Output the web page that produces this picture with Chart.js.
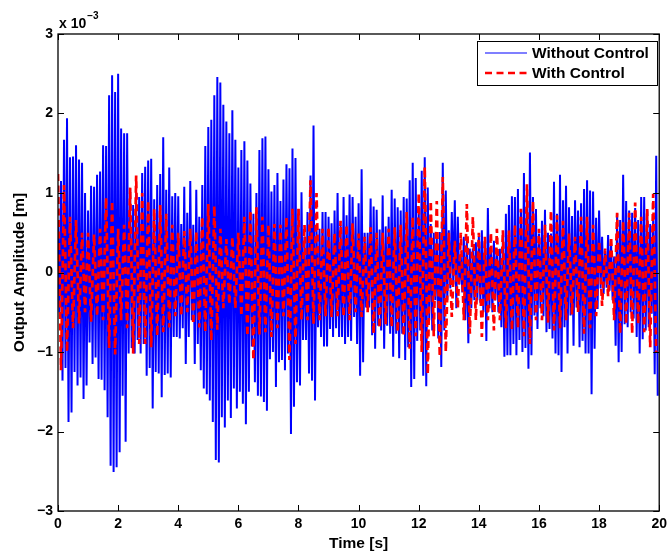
<!DOCTYPE html>
<html>
<head>
<meta charset="utf-8">
<title>Output Amplitude</title>
<script src="https://cdn.jsdelivr.net/npm/chart.js@4.4.1/dist/chart.umd.min.js"></script>
<style>
  html, body { margin: 0; padding: 0; background: #ffffff; }
  canvas { display: block; }
</style>
</head>
<body>
<canvas id="chart" width="672" height="554"></canvas>
<script>
// Amplitudes are in units of 1e-3 m (the axis carries the "x 10^-3" factor).
// Each cycle: a positive peak followed half a period later by a negative trough.
const withoutPeriod = 0.1; // s, uncontrolled response
const withPeriod = 0.2;    // s, controlled response

// Without Control: one peak / trough pair per 0.1 s (rows = 1 s)
const withoutHigh = [
  0.60, 1.15, 1.67, 1.94, 1.45, 1.46, 1.60, 1.42, 1.38, 1.00,
  0.78, 1.09, 1.08, 1.23, 1.27, 1.60, 1.59, 2.23, 2.48, 2.27,
  2.50, 1.81, 1.75, 1.75, 1.05, 0.85, 1.00, 0.95, 1.25, 1.33,
  1.41, 1.43, 0.92, 1.10, 1.24, 1.70, 1.04, 1.32, 0.96, 1.00,
  0.96, 0.61, 1.08, 0.75, 1.15, 0.60, 1.04, 0.70, 1.10, 1.59,
  1.83, 1.92, 2.23, 2.46, 2.39, 2.11, 1.90, 1.75, 2.04, 1.67,
  1.32, 1.54, 1.65, 1.41, 1.12, 0.74, 1.00, 1.54, 1.69, 1.71,
  1.30, 1.02, 1.10, 1.25, 0.90, 1.17, 1.36, 1.31, 1.56, 1.44,
  0.80, 1.01, 0.45, 0.76, 1.22, 1.85, 0.60, 0.55, 0.76, 0.76,
  0.70, 0.62, 0.78, 1.00, 0.60, 0.95, 0.72, 0.98, 0.95, 0.70,
  0.87, 1.30, 0.50, 0.50, 0.93, 0.83, 0.79, 0.54, 0.97, 0.58,
  0.70, 1.04, 0.93, 0.82, 0.78, 0.95, 0.93, 1.16, 1.38, 1.19,
  0.80, 1.28, 1.45, 1.07, 0.61, 0.50, 0.48, 0.51, 1.38, 1.03,
  0.53, 0.76, 0.91, 0.70, 0.20, 0.45, 0.40, 0.30, 0.30, 0.38,
  0.45, 0.53, 0.40, 0.81, 0.30, 0.40, 0.30, 0.30, 0.42, 0.74,
  0.85, 0.96, 0.95, 1.05, 0.80, 1.25, 0.93, 1.51, 0.95, 0.80,
  0.49, 0.65, 0.79, 0.50, 0.49, 1.14, 0.74, 1.23, 0.91, 1.09,
  0.82, 0.71, 0.91, 0.78, 0.87, 1.05, 1.16, 1.03, 1.02, 0.69,
  0.78, 0.45, 0.27, 0.47, 0.36, 0.20, 0.74, 0.66, 1.23, 0.90,
  0.78, 0.75, 0.81, 0.66, 0.95, 0.95, 0.78, 0.61, 0.70, 1.47
];

const withoutLow = [
  -0.50, -1.36, -1.20, -1.88, -1.76, -1.25, -1.42, -1.32, -1.59, -1.42,
  -0.88, -1.15, -1.07, -1.34, -1.35, -1.48, -1.82, -2.43, -2.51, -2.45,
  -2.26, -1.55, -2.13, -1.02, -0.95, -1.02, -0.85, -1.02, -0.90, -1.30,
  -1.20, -1.71, -1.25, -1.27, -1.57, -1.29, -1.27, -1.32, -0.81, -0.81,
  -0.83, -0.70, -1.15, -0.81, -0.60, -1.15, -0.90, -1.23, -1.46, -1.53,
  -1.61, -1.88, -2.36, -2.39, -1.82, -1.95, -1.61, -1.83, -1.46, -1.71,
  -1.50, -1.65, -1.91, -1.50, -0.93, -1.38, -1.55, -1.56, -1.63, -1.74,
  -1.09, -1.00, -1.44, -1.13, -1.10, -1.23, -1.02, -2.03, -1.69, -1.38,
  -1.42, -0.85, -0.85, -1.27, -1.36, -1.61, -0.69, -0.81, -0.93, -0.93,
  -0.71, -0.81, -0.70, -0.81, -0.81, -0.90, -0.81, -0.86, -0.56, -0.90,
  -1.30, -1.13, -0.44, -0.44, -0.79, -0.96, -0.67, -0.73, -0.96, -0.67,
  -0.77, -1.06, -0.77, -1.08, -0.77, -1.10, -0.94, -1.44, -1.34, -0.86,
  -0.73, -1.30, -1.43, -0.60, -0.73, -0.35, -0.83, -1.19, -0.73, -0.35,
  -0.20, -0.15, -0.45, -0.15, -0.25, -0.60, -0.89, -0.45, -0.35, -0.35,
  -0.38, -0.50, -0.86, -0.45, -0.50, -0.35, -0.50, -0.69, -1.06, -1.04,
  -1.04, -0.90, -1.04, -0.85, -1.00, -0.95, -1.21, -1.04, -0.54, -0.71,
  -0.45, -0.55, -0.75, -0.71, -0.83, -1.02, -1.04, -1.25, -0.69, -1.02,
  -0.54, -0.92, -0.44, -0.94, -0.86, -1.02, -1.02, -1.53, -0.96, -0.46,
  -0.20, -0.27, -0.19, -0.23, -0.35, -0.92, -1.13, -1.00, -0.65, -0.69,
  -0.50, -0.58, -0.81, -1.02, -0.84, -0.73, -0.69, -0.52, -1.28, -1.55
];

// With Control: one peak / trough pair per 0.2 s (rows = 1 s)
const withHigh = [
  1.24, 1.10, 0.70, 0.66, 0.50,
  0.50, 0.48, 0.55, 0.94, 0.90,
  0.55, 0.60, 1.07, 1.22, 1.00,
  0.90, 0.80, 0.85, 0.74, 0.60,
  0.50, 0.52, 0.55, 0.52, 0.70,
  0.86, 0.84, 0.55, 0.42, 0.45,
  0.50, 0.70, 0.78, 0.82, 0.70,
  0.60, 0.61, 0.60, 0.70, 0.80,
  0.80, 0.60, 1.16, 1.00, 0.55,
  0.57, 0.50, 0.65, 0.60, 0.62,
  0.49, 0.45, 0.57, 0.50, 0.50,
  0.55, 0.57, 0.60, 0.76, 0.70,
  1.00, 1.33, 0.90, 0.90, 1.20,
  0.50, 0.40, 0.50, 0.86, 0.70,
  0.50, 0.45, 0.50, 0.55, 0.53,
  0.53, 0.60, 0.80, 1.11, 0.90,
  0.55, 0.60, 0.78, 0.72, 0.65,
  0.49, 0.45, 0.70, 0.70, 0.60,
  0.40, 0.30, 0.45, 0.75, 0.65,
  0.75, 0.88, 0.70, 0.80, 0.99
];

const withLow = [
  -1.23, -1.00, -0.70, -0.64, -0.50,
  -0.62, -0.55, -0.60, -0.95, -1.03,
  -0.60, -0.70, -1.02, -0.90, -0.90,
  -0.94, -0.80, -0.75, -0.69, -0.55,
  -0.55, -0.50, -0.65, -0.69, -0.75,
  -0.86, -0.72, -0.45, -0.40, -0.45,
  -0.55, -0.80, -1.10, -0.78, -0.75,
  -0.81, -0.70, -0.55, -1.10, -0.90,
  -0.60, -0.60, -0.65, -0.60, -0.55,
  -0.56, -0.55, -0.56, -0.60, -0.50,
  -0.56, -0.50, -0.77, -0.70, -0.65,
  -0.69, -0.75, -0.80, -0.96, -0.80,
  -1.00, -1.28, -0.80, -1.06, -1.00,
  -0.56, -0.45, -0.60, -0.77, -0.60,
  -0.81, -0.60, -0.73, -0.60, -0.70,
  -0.73, -0.70, -0.80, -0.90, -0.60,
  -0.60, -0.63, -0.73, -0.70, -0.60,
  -0.53, -0.50, -0.77, -0.70, -0.55,
  -0.42, -0.30, -0.60, -0.77, -0.65,
  -0.77, -0.65, -0.75, -0.94, -1.00
];

const seriesNames = ['Without Control', 'With Control'];
const xTickValues = [0, 2, 4, 6, 8, 10, 12, 14, 16, 18, 20];
const yTickValues = [-3, -2, -1, 0, 1, 2, 3];
const yScaleExponent = '\u22123';

// Interleave peaks and troughs into one time trace.
function buildTrace(highs, lows, period) {
  const pts = [];
  for (let i = 0; i < highs.length; i++) {
    const t = i * period;
    pts.push({ x: t, y: highs[i] });
    pts.push({ x: t + period / 2, y: lows[i] });
  }
  return pts;
}

const FONT = '"Liberation Sans", Arial, Helvetica, sans-serif';

// Axes box, inward tick marks on all four sides, legend and exponent label.
const axesFrame = {
  id: 'axesFrame',
  afterDraw(chart) {
    const { ctx, chartArea: a, scales } = chart;
    const tick = 6;
    ctx.save();
    ctx.strokeStyle = '#000';
    ctx.lineWidth = 1;
    ctx.beginPath();
    xTickValues.forEach(v => {
      const px = Math.round(scales.x.getPixelForValue(v)) + 0.5;
      ctx.moveTo(px, a.bottom); ctx.lineTo(px, a.bottom - tick);
      ctx.moveTo(px, a.top); ctx.lineTo(px, a.top + tick);
    });
    yTickValues.forEach(v => {
      const py = Math.round(scales.y.getPixelForValue(v)) + 0.5;
      ctx.moveTo(a.left, py); ctx.lineTo(a.left + tick, py);
      ctx.moveTo(a.right, py); ctx.lineTo(a.right - tick, py);
    });
    ctx.stroke();
    ctx.lineWidth = 1.3;
    ctx.strokeRect(a.left, a.top, a.right - a.left, a.bottom - a.top);

    // exponent label above the y axis
    ctx.fillStyle = '#000';
    ctx.textBaseline = 'alphabetic';
    ctx.textAlign = 'left';
    ctx.font = 'bold 14px ' + FONT;
    const base = 'x 10';
    ctx.fillText(base, a.left + 1, 28);
    const w = ctx.measureText(base).width;
    ctx.font = 'bold 10px ' + FONT;
    ctx.fillText(yScaleExponent, a.left + 2 + w, 19);

    // legend
    const lx = 477, ly = 41, lw = 180, lh = 44;
    ctx.fillStyle = '#fff';
    ctx.fillRect(lx, ly, lw, lh);
    ctx.lineWidth = 1;
    ctx.strokeStyle = '#000';
    ctx.strokeRect(lx + 0.5, ly + 0.5, lw, lh);
    const rows = [ly + 12, ly + 32];
    chart.data.datasets.forEach((ds, i) => {
      const y = rows[i];
      ctx.save();
      ctx.strokeStyle = ds.borderColor;
      ctx.lineWidth = i === 0 ? 1.2 : ds.borderWidth;
      ctx.setLineDash(ds.borderDash || []);
      ctx.beginPath();
      ctx.moveTo(lx + 8, y);
      ctx.lineTo(lx + 50, y);
      ctx.stroke();
      ctx.restore();
      ctx.fillStyle = '#000';
      ctx.font = 'bold 15.5px ' + FONT;
      ctx.textBaseline = 'middle';
      ctx.fillText(ds.label, lx + 55, y + 1);
    });
    ctx.restore();
  }
};

new Chart(document.getElementById('chart'), {
  type: 'line',
  data: {
    datasets: [
      {
        label: seriesNames[0],
        data: buildTrace(withoutHigh, withoutLow, withoutPeriod),
        borderColor: '#0000ff',
        borderWidth: 2,
        pointRadius: 0,
        tension: 0,
        order: 2
      },
      {
        label: seriesNames[1],
        data: buildTrace(withHigh, withLow, withPeriod),
        borderColor: '#ff0000',
        borderWidth: 2.7,
        borderDash: [7, 4.5],
        pointRadius: 0,
        tension: 0,
        order: 1
      }
    ]
  },
  options: {
    responsive: false,
    animation: false,
    devicePixelRatio: 1,
    events: [],
    layout: { padding: { left: 0, right: 8, top: 34, bottom: 0 } },
    plugins: { legend: { display: false }, tooltip: { enabled: false } },
    scales: {
      x: {
        type: 'linear',
        min: 0,
        max: 20,
        afterFit(s) { s.height = 43; },
        afterBuildTicks(s) { s.ticks = xTickValues.map(v => ({ value: v })); },
        grid: { display: false, drawTicks: false },
        border: { display: false },
        ticks: {
          padding: 5,
          color: '#000',
          maxRotation: 0,
          autoSkip: false,
          font: { family: FONT, size: 14, weight: 'bold' }
        },
        title: {
          display: true,
          text: 'Time [s]',
          color: '#000',
          font: { family: FONT, size: 15.5, weight: 'bold' },
          padding: { top: 0, bottom: 1 }
        }
      },
      y: {
        type: 'linear',
        min: -3,
        max: 3,
        afterFit(s) { s.width = 58; },
        afterBuildTicks(s) { s.ticks = yTickValues.map(v => ({ value: v })); },
        grid: { display: false, drawTicks: false },
        border: { display: false },
        ticks: {
          padding: 5,
          color: '#000',
          autoSkip: false,
          font: { family: FONT, size: 14, weight: 'bold' },
          callback: v => (v < 0 ? '\u2212' + Math.abs(v) : String(v))
        },
        title: {
          display: true,
          text: 'Output Amplitude [m]',
          color: '#000',
          font: { family: FONT, size: 15.5, weight: 'bold' },
          padding: { top: 10.5, bottom: 0 }
        }
      }
    }
  },
  plugins: [axesFrame]
});
</script>
</body>
</html>
